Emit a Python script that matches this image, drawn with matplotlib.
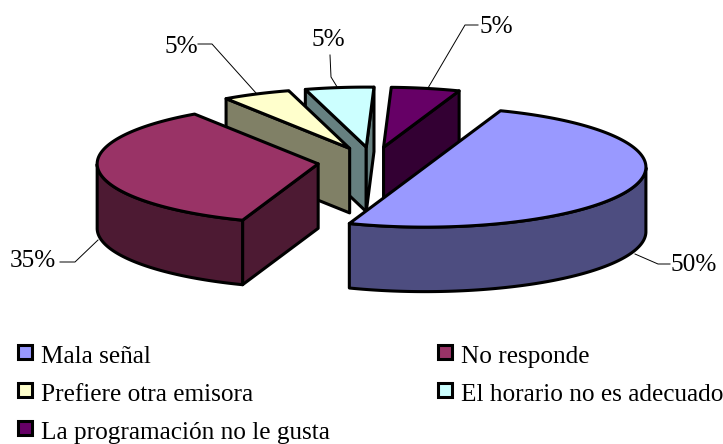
import numpy as np
import matplotlib
matplotlib.use("Agg")
import matplotlib.pyplot as plt

# datos del grafico
categorias = ["Mala señal", "No responde", "Prefiere otra emisora",
              "El horario no es adecuado", "La programación no le gusta"]
valores = [50, 35, 5, 5, 5]
colores_top = ["#9999FF", "#993366", "#FFFFCC", "#CCFFFF", "#660066"]
colores_lado = ["#4D4D80", "#4D1A33", "#808066", "#668080", "#330033"]

# geometria del pastel (pixeles de la figura)
CX, CY = 373, 162
A, B = 221, 60
PROF = 64.5
EXPL = 0.25
INICIO = 70
LW = 2.2

plt.rcParams['font.family'] = ['Liberation Serif', 'DejaVu Serif']

fig = plt.figure(figsize=(7.23, 4.44), dpi=100)
ax = fig.add_axes([0, 0, 1, 1])
ax.set_xlim(0, 723)
ax.set_ylim(444, 0)
ax.axis("off")


def punto(cx, cy, t, dy=0):
    t = np.radians(t)
    return cx + A * np.cos(t), cy - B * np.sin(t) + dy


def poly(xs, ys, color, z):
    ax.fill(xs, ys, facecolor=color, edgecolor="black", linewidth=LW,
            joinstyle="round", zorder=z)


# calcular las rebanadas en sentido horario
angulos = []
t0 = INICIO
for v in valores:
    t1 = t0 - v * 3.6
    angulos.append((t0, t1))
    t0 = t1

# orden de dibujo: de atras hacia adelante
orden = [4, 3, 2, 1, 0]
z = 2
for i in orden:
    t0, t1 = angulos[i]
    medio = np.radians((t0 + t1) / 2)
    cx = CX + EXPL * A * np.cos(medio)
    cy = CY - EXPL * B * np.sin(medio)

    # paredes radiales visibles
    for t, normal in ((t0, t0 + 90), (t1, t1 - 90)):
        if np.sin(np.radians(normal)) < 0:
            px, py = punto(cx, cy, t)
            poly([cx, px, px, cx], [cy, py, py + PROF, cy + PROF], colores_lado[i], z)
            z += 1

    # pared curva: solo la parte de adelante
    ts = np.linspace(t0, t1, 200)
    ts = ts[np.sin(np.radians(ts)) <= 0]
    if len(ts) > 1:
        xs, ys = punto(cx, cy, ts)
        poly(np.r_[xs, xs[::-1]], np.r_[ys, ys[::-1] + PROF], colores_lado[i], z)
        z += 1

    # tapa
    ts = np.linspace(t0, t1, 200)
    xs, ys = punto(cx, cy, ts)
    poly(np.r_[cx, xs], np.r_[cy, ys], colores_top[i], z)
    z += 1

# lineas guia y etiquetas
guias = [
    ([635, 658, 670], [254, 264, 264], 694, 265),
    ([98, 75, 60], [240, 262, 262], 33, 261),
    ([256, 212, 198], [93, 44, 44], 181, 47),
    ([339, 331, 330], [90, 77, 55], 328, 40),
    ([428, 465, 478], [88, 25, 25], 496, 27),
]
for v, (gx, gy, tx, ty) in zip(valores, guias):
    ax.plot(gx, gy, color="black", linewidth=0.7, zorder=1)
    ax.text(tx, ty, f"{v}%", fontsize=18.2, ha="center", va="center")

# leyenda
ley_x = [25, 25 + 420, 25, 25 + 420, 25]
ley_y = [352, 352, 390, 390, 428]
for nombre, color, x, y in zip(categorias, colores_top, ley_x, ley_y):
    ax.plot(x, y, "s", markersize=9.5, markerfacecolor=color,
            markeredgecolor="black", markeredgewidth=2.2)
    ax.text(x + 16, y + 5, nombre, fontsize=18.2, ha="left", va="center")

fig.savefig("out.png", dpi=100)
